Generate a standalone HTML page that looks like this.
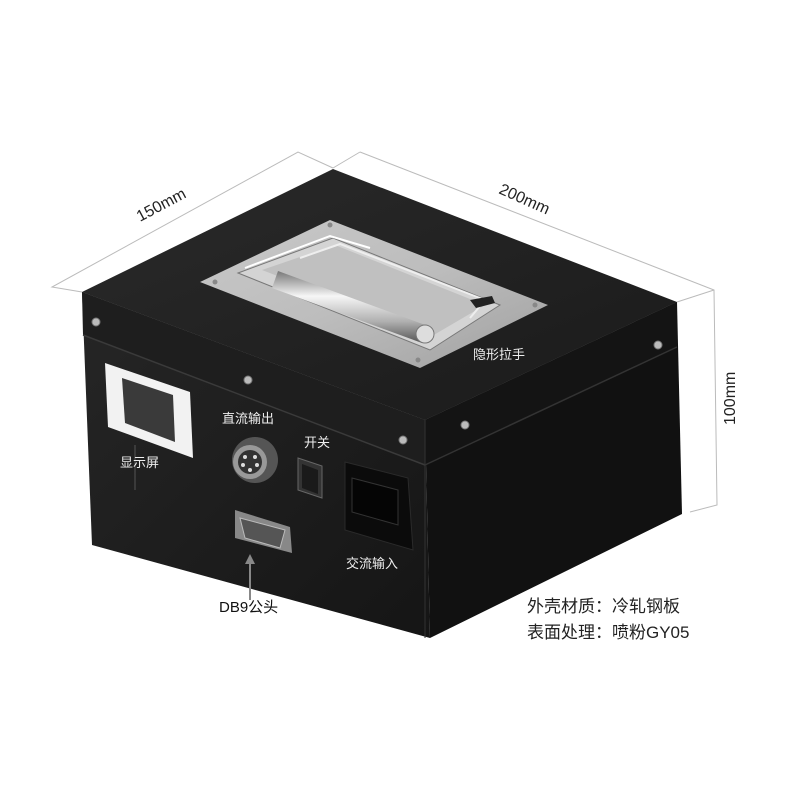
<!DOCTYPE html>
<html><head><meta charset="utf-8"><style>
body{margin:0;background:#fff;}
svg{display:block}
text{font-family:"Liberation Sans","Noto Sans CJK SC",sans-serif;}
</style></head><body>
<svg width="800" height="800" viewBox="0 0 800 800" xmlns="http://www.w3.org/2000/svg">
<defs>
<linearGradient id="top" x1="0" y1="0" x2="1" y2="1"><stop offset="0" stop-color="#2a2a2a"/><stop offset="1" stop-color="#1a1a1a"/></linearGradient>
<linearGradient id="left" x1="0" y1="0" x2="1" y2="1"><stop offset="0" stop-color="#262626"/><stop offset="1" stop-color="#151515"/></linearGradient>
<linearGradient id="plate" x1="0" y1="0" x2="1" y2="1"><stop offset="0" stop-color="#c8c8c8"/><stop offset="0.5" stop-color="#bdbdbd"/><stop offset="1" stop-color="#a0a0a0"/></linearGradient>
<linearGradient id="bar" x1="0" y1="0" x2="0" y2="1"><stop offset="0" stop-color="#777"/><stop offset="0.35" stop-color="#f6f6f6"/><stop offset="0.7" stop-color="#b0b0b0"/><stop offset="1" stop-color="#555"/></linearGradient>
</defs>
<g stroke="#bbb" stroke-width="1" fill="none">
<polyline points="82,292 52,287 298,152 333,168"/>
<polyline points="360,152 714,290 717,505 690,512"/>
<line x1="360" y1="152" x2="333" y2="168"/>
<line x1="677" y1="302" x2="714" y2="290"/>
</g>
<text x="0" y="0" font-size="16" fill="#222" transform="translate(140,222) rotate(-28)">150mm</text>
<text x="0" y="0" font-size="16" fill="#222" transform="translate(498,193) rotate(24)">200mm</text>
<text x="0" y="0" font-size="16" fill="#222" transform="translate(735,425) rotate(-90)">100mm</text>
<polygon points="82,292 425,420 430,638 92,545" fill="url(#left)"/>
<polygon points="425,420 677,302 682,514 430,638" fill="#111"/>
<polygon points="82,292 333,169 677,302 425,420" fill="url(#top)"/>
<polygon points="82,292 425,420 425,465 83,335" fill="#1e1e1e"/>
<polygon points="425,420 677,302 677,347 425,465" fill="#141414"/>
<line x1="83" y1="335" x2="425" y2="465" stroke="#3a3a3a" stroke-width="1.5"/>
<line x1="425" y1="465" x2="677" y2="347" stroke="#333" stroke-width="1.5"/>
<line x1="425" y1="420" x2="425" y2="638" stroke="#333" stroke-width="1"/>
<!-- handle -->
<polygon points="200,282 330,220 548,305 420,368" fill="url(#plate)"/>
<polygon points="238,273 333,238 500,305 430,350" fill="#d4d4d4" stroke="#777"/>
<polygon points="262,270 335,245 485,305 432,336" fill="#c0c0c0"/>
<polyline points="245,268 330,236 370,248" fill="none" stroke="#fff" stroke-width="2"/>
<polyline points="300,258 340,244 485,300 470,318" fill="none" stroke="#eee" stroke-width="2"/>
<polygon points="278,271 428,326 422,343 272,288" fill="url(#bar)"/>
<circle cx="425" cy="334" r="9" fill="#ddd" stroke="#777"/>
<polygon points="470,300 492,296 495,303 476,308" fill="#222"/>
<g fill="#888"><circle cx="215" cy="282" r="2.5"/><circle cx="330" cy="225" r="2.5"/><circle cx="535" cy="305" r="2.5"/><circle cx="418" cy="360" r="2.5"/></g>
<g fill="#bbb" stroke="#777"><circle cx="96" cy="322" r="4"/><circle cx="248" cy="380" r="4"/><circle cx="403" cy="440" r="4"/><circle cx="465" cy="425" r="4"/><circle cx="658" cy="345" r="4"/></g>
<polygon points="105,363 190,392 193,458 108,427" fill="#f2f2f2"/>
<polygon points="122,378 173,395 175,442 125,423" fill="#3a3a3a"/>
<line x1="135" y1="445" x2="135" y2="490" stroke="#555" stroke-width="1"/>
<circle cx="255" cy="460" r="23" fill="#555"/><circle cx="250" cy="462" r="17" fill="#999"/><circle cx="250" cy="462" r="12" fill="#333"/>
<g fill="#ddd"><circle cx="245" cy="457" r="2"/><circle cx="255" cy="457" r="2"/><circle cx="243" cy="465" r="2"/><circle cx="257" cy="465" r="2"/><circle cx="250" cy="470" r="2"/></g>
<polygon points="298,458 322,466 322,498 298,490" fill="#333" stroke="#666"/>
<polygon points="302,464 318,470 318,494 302,488" fill="#1a1a1a"/>
<polygon points="345,462 408,478 413,550 345,530" fill="#0b0b0b" stroke="#2a2a2a"/>
<polygon points="352,478 398,490 398,525 352,512" fill="#050505" stroke="#333"/>
<polygon points="235,510 290,527 292,553 235,538" fill="#888"/>
<polygon points="240,518 285,530 280,548 245,538" fill="#555" stroke="#bbb"/>
<line x1="250" y1="558" x2="250" y2="600" stroke="#888" stroke-width="2"/>
<polygon points="250,554 245,564 255,564" fill="#888"/>
<g font-size="13" fill="#eee">
<text x="120" y="467">显示屏</text>
<text x="222" y="423">直流输出</text>
<text x="304" y="447">开关</text>
<text x="346" y="568">交流输入</text>
<text x="473" y="359">隐形拉手</text>
</g>
<text x="219" y="612" font-size="15" fill="#111">DB9公头</text>
<text x="527" y="612" font-size="17" fill="#222">外壳材质：冷轧钢板</text>
<text x="527" y="638" font-size="17" fill="#222">表面处理：喷粉GY05</text>
</svg>
</body></html>
